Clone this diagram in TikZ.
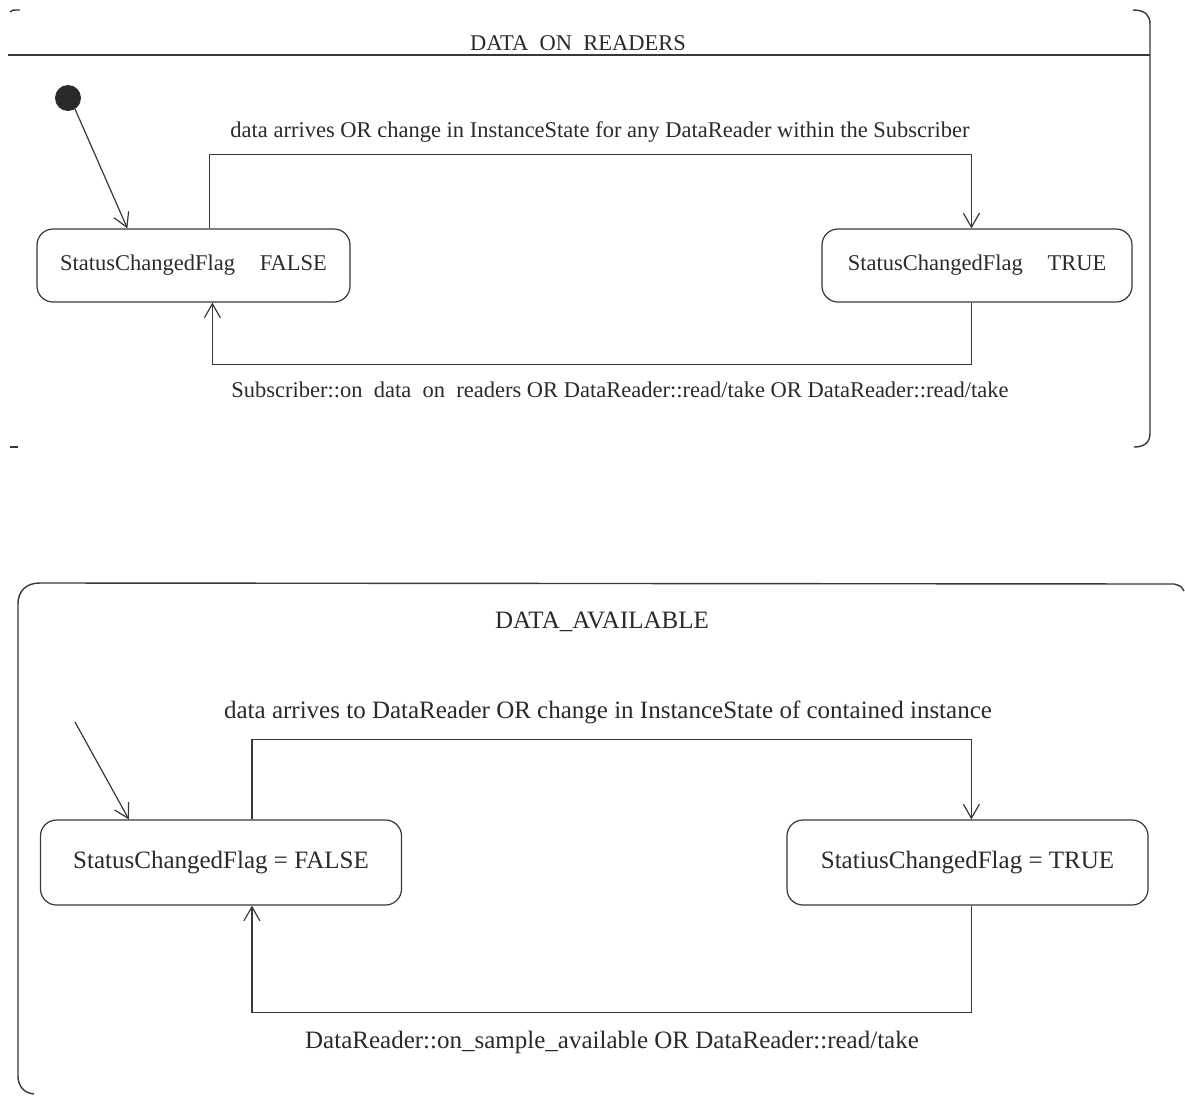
\documentclass[tikz,border=0pt]{standalone}
\usepackage{fontspec}
\setmainfont{Liberation Serif}
\usetikzlibrary{arrows.meta,calc}
\definecolor{ink}{HTML}{2A2A2A}
\definecolor{rule}{HTML}{383838}
\newcommand\ugap{\hspace{0.5em}}
\tikzset{
  frame/.style={draw=rule, line width=1.4pt},
  state/.style={draw=rule, line width=1.2pt, rounded corners=16pt, text=ink, inner sep=0pt},
  stateA/.style={state, minimum width=313pt, minimum height=73pt, font=\fontsize{22.5}{24}\selectfont},
  stateB/.style={state, minimum width=361pt, minimum height=85pt, font=\fontsize{25}{27}\selectfont},
  trans/.style={draw=rule, line width=1.2pt, -{Straight Barb[length=14pt,width=16pt,line width=1.2pt]}},
  lblA/.style={text=ink, inner sep=0pt, font=\fontsize{22.5}{24}\selectfont},
  lblB/.style={text=ink, inner sep=0pt, font=\fontsize{25}{27}\selectfont},
}
\begin{document}
\begin{tikzpicture}[x=1pt, y=-1pt]
\useasboundingbox (0,0) rectangle (1185,1095);

% ---------- DATA_ON_READERS ----------
% frame fragments and title separator
\draw[frame] (10,12) .. controls (12,10) .. (20,10);
\draw[frame] (1133,10) .. controls (1146,10) and (1150,16) .. (1150,24) -- (1150,433)
             .. controls (1150,442) and (1145,447) .. (1134,447);
\draw[frame] (10,447) -- (18,447);
\draw[frame] (8,55) -- (1150,55);
\node[lblA] (t1title) at (578,43) {DATA\ugap ON\ugap READERS};

\fill[ink] (68,98) circle (13pt) coordinate (init1);
\node[stateA] (f1) at (193.5,265.5) {StatusChangedFlag\hspace{1.1em}FALSE};
\node[stateA, minimum width=310pt] (t1) at (977,265.5) {StatusChangedFlag\hspace{1.1em}TRUE};

\draw[trans] ($(init1)+(7,11)$) -- ([xshift=91pt]f1.north west);
\draw[trans] ([xshift=173pt]f1.north west) -- ++(0,-74) -| ([xshift=150pt]t1.north west);
\draw[trans] ([xshift=150pt]t1.south west) -- ++(0,62) -| ([xshift=176pt]f1.south west);

\node[lblA] (l1a) at (600,132) {data arrives OR change in InstanceState for any DataReader within the Subscriber};
\node[lblA] (l1b) at (620,390) {Subscriber::on\ugap data\ugap on\ugap readers OR DataReader::read/take OR DataReader::read/take};

% ---------- DATA_AVAILABLE ----------
\draw[frame] (1184,591) .. controls (1181,586) .. (1174,584) -- (40,583)
             .. controls (26,583) and (18,591) .. (18,604) -- (18,1076)
             .. controls (18,1086) and (24,1093) .. (34,1094);
\node[lblB] (t2title) at (602,622) {DATA\_AVAILABLE};

\coordinate (init2) at (75,722);
\node[stateB] (f2) at (221,862.5) {StatusChangedFlag = FALSE};
\node[stateB] (t2) at (967.5,862.5) {StatiusChangedFlag = TRUE};

\draw[trans] (init2) -- ([xshift=89pt]f2.north west);
\draw[trans] ([xshift=212pt]f2.north west) -- ++(0,-80) -| ([xshift=185pt]t2.north west);
\draw[trans] ([xshift=185pt]t2.south west) -- ++(0,107) -| ([xshift=212pt]f2.south west);

\node[lblB] (l2a) at (608,712) {data arrives to DataReader OR change in InstanceState of contained instance};
\node[lblB] (l2b) at (612,1042) {DataReader::on\_sample\_available OR DataReader::read/take};
\end{tikzpicture}
\end{document}
